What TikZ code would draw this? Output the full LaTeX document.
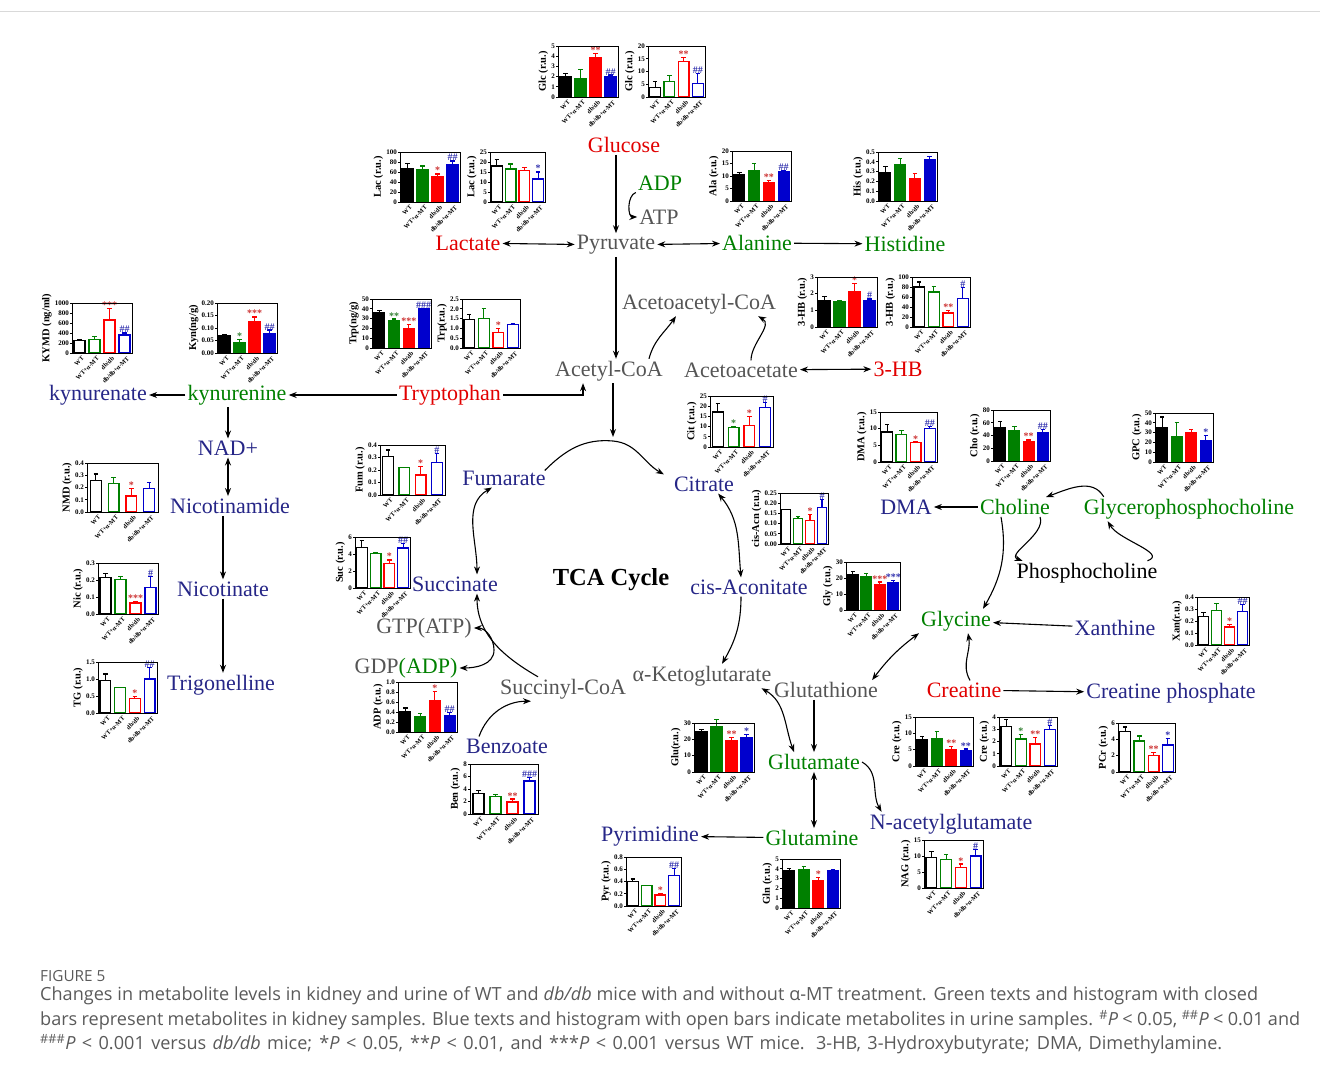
\documentclass[tikz,border=0pt]{standalone}
\usepackage{fontspec}
\setmainfont{Liberation Serif}
\newfontfamily\capfont{Open Sans}
\usetikzlibrary{arrows.meta,calc}
\definecolor{c1}{RGB}{0,0,0}
\definecolor{c2}{RGB}{0,128,0}
\definecolor{c3}{RGB}{255,0,0}
\definecolor{c4}{RGB}{0,0,205}
\definecolor{tnavy}{RGB}{38,38,135}
\definecolor{tgreen}{RGB}{0,128,0}
\definecolor{tred}{RGB}{225,0,0}
\definecolor{tgray}{RGB}{85,85,85}
\definecolor{capgray}{RGB}{90,90,90}
\tikzset{
  lab/.style={font=\fontsize{22}{23}\selectfont, inner sep=2pt},
  arr/.style={-{Stealth[length=8pt,width=6pt]}, line width=1.1pt},
  darr/.style={{Stealth[length=8pt,width=6pt]}-{Stealth[length=8pt,width=6pt]}, line width=1.1pt},
  tickl/.style={font=\fontsize{7}{7}\selectfont\bfseries, inner sep=0.8pt},
  catl/.style={font=\fontsize{6.3}{6.5}\selectfont\bfseries, inner sep=0.5pt},
  sigl/.style={font=\fontsize{10}{10}\selectfont\bfseries, inner sep=0.3pt},
  ylab/.style={font=\fontsize{10.5}{11}\selectfont\bfseries, inner sep=0pt},
  capl/.style={anchor=west,inner sep=0pt,text=capgray,font=\capfont\fontsize{18.1}{19}\selectfont}
}
\newcommand\catname[1]{\ifcase#1\or WT\or WT+α-MT\or db/db\or db/db+α-MT\fi}
% #1 x-left #2 y-bottom #3 w #4 h #5 label #6 ymax #7 ticks #8 F/O #9 data
\newcommand\hist[9]{%
\begin{scope}[shift={(#1,-#2)}]
  \pgfmathsetmacro\hw{#3}\pgfmathsetmacro\hh{#4}\pgfmathsetmacro\hmax{#6}
  \foreach \i/\v/\e/\s in {#9}{%
    \pgfmathsetmacro\bx{(\i-0.5)*\hw/4}
    \pgfmathsetmacro\bt{\v/\hmax*\hh}
    \pgfmathsetmacro\et{(\v+\e)/\hmax*\hh}
    \pgfmathsetmacro\bw{min(0.39*\hw/4,5.4)}
    \if#8F\def\fc{c\i}\else\def\fc{white}\fi
    \draw[draw=c\i,line width=1.2pt] (\bx,\bt) -- (\bx,\et) (\bx-2.2,\et) -- (\bx+2.2,\et);
    \filldraw[draw=c\i,fill=\fc,line width=1.3pt] (\bx-\bw,0) rectangle (\bx+\bw,\bt);
    \node[sigl,text=c\i!60!gray,anchor=south] at (\bx,\et-0.5) {\s};
    \node[catl,anchor=north east,rotate=45] at (\bx+2,-2) {\catname{\i}};
  }
  \draw[line width=0.9pt] (0,0) rectangle (\hw,\hh);
  \foreach \tv/\tl in {#7}{%
    \pgfmathsetmacro\ty{\tv/\hmax*\hh}
    \draw[line width=0.8pt] (0,\ty) -- (-2.2,\ty);
    \node[tickl,anchor=east] (tlast) at (-2.2,\ty) {\tl};
  }
  \coordinate (hm) at (0,\hh/2);
  \node[ylab,rotate=90,anchor=south] at ([xshift=-2pt]tlast.west |- hm) {#5};
\end{scope}}
\begin{document}
\begin{tikzpicture}[x=1pt,y=1pt]
\useasboundingbox (0,0) rectangle (1320,-1075);
\draw[black!15,line width=1pt] (0,-12) -- (1320,-12);
% ---------------- metabolite nodes
\node[lab,text=tred] (glucose) at (624,-145) {Glucose};
\node[lab,text=tgreen] (adp) at (660,-183) {ADP};
\node[lab,text=tgray] (atp) at (659,-217) {ATP};
\node[lab,text=tred] (lactate) at (468,-243) {Lactate};
\node[lab,text=tgray] (pyruvate) at (616,-245) {Pyruvate};
\node[lab,text=tgreen] (alanine) at (757,-243) {Alanine};
\node[lab,text=tgreen] (histidine) at (905,-244) {Histidine};
\node[lab,text=tgray] (aacoa) at (699,-304) {Acetoacetyl-CoA};
\node[lab,text=tgray] (acetyl) at (609,-371) {Acetyl-CoA};
\node[lab,text=tgray] (aacet) at (741,-370) {Acetoacetate};
\node[lab,text=tred] (hb) at (898,-369) {3-HB};
\node[lab,text=tnavy] (kynurenate) at (98,-395) {kynurenate};
\node[lab,text=tgreen] (kynurenine) at (237,-395) {kynurenine};
\node[lab,text=tred] (tryp) at (450,-395) {Tryptophan};
\node[lab,text=tnavy] (nad) at (228,-448) {NAD+};
\node[lab,text=tnavy] (nicam) at (230,-506) {Nicotinamide};
\node[lab,text=tnavy] (nicot) at (223,-589) {Nicotinate};
\node[lab,text=tnavy] (trig) at (221,-685) {Trigonelline};
\node[lab,text=tnavy] (fumarate) at (504,-478) {Fumarate};
\node[lab,text=tnavy] (citrate) at (704,-484) {Citrate};
\node[font=\fontsize{24.5}{25}\selectfont\bfseries] (tca) at (611,-580) {TCA Cycle};
\node[lab,text=tnavy] (succinate) at (455,-584) {Succinate};
\node[lab,text=tnavy] (cisacon) at (749,-587) {cis-Aconitate};
\node[lab,text=tgray] (gtp) at (424,-628) {GTP(ATP)};
\node[lab] (gdp) at (406,-668) {\textcolor{tgray}{GDP}\textcolor{tgreen}{(ADP)}};
\node[lab,text=tgray] (succoa) at (563,-689) {Succinyl-CoA};
\node[lab,text=tgray] (akg) at (702,-676) {α-Ketoglutarate};
\node[lab,text=tgray] (gsh) at (826,-690) {Glutathione};
\node[lab,text=tnavy] (benzoate) at (507,-746) {Benzoate};
\node[lab,text=tgreen] (glutamate) at (814,-762) {Glutamate};
\node[lab,text=tgreen] (glutamine) at (812,-838) {Glutamine};
\node[lab,text=tnavy] (pyrimidine) at (650,-836) {Pyrimidine};
\node[lab,text=tnavy] (nag) at (951,-824) {N-acetylglutamate};
\node[lab,text=tnavy] (dma) at (906,-507) {DMA};
\node[lab,text=tgreen] (choline) at (1015,-507) {Choline};
\node[lab,text=tgreen] (gpc) at (1189,-509) {Glycerophosphocholine};
\node[lab] (pcho) at (1087,-573) {Phosphocholine};
\node[lab,text=tgreen] (glycine) at (956,-621) {Glycine};
\node[lab,text=tnavy] (xanthine) at (1115,-628) {Xanthine};
\node[lab,text=tred] (creatine) at (964,-690) {Creatine};
\node[lab,text=tnavy] (crp) at (1171,-693) {Creatine phosphate};
% ---------------- connectors
\draw[arr] (pyruvate.north |- glucose.south) -- (pyruvate.north);
\draw[arr] (adp.south west) to[out=-160,in=180] (atp.west);
\draw[darr] (lactate) -- (pyruvate);
\draw[darr] (pyruvate) -- (alanine);
\draw[arr] (alanine) -- (histidine);
\draw[arr] (pyruvate.south) -- (pyruvate.south |- acetyl.north);
\draw[arr] ([xshift=-16pt]acetyl.north east) to[out=75,in=-125] ([xshift=-23pt]aacoa.south);
\draw[arr] ([xshift=10pt]aacet.north) to[out=90,in=-30] ([xshift=-20pt]aacoa.south east);
\draw[darr] (aacet) -- (hb);
\coordinate (tcatop) at (613,-437);
\draw[arr] (tcatop |- acetyl.south) -- (tcatop);
\draw[arr] (tryp.east) -| ([xshift=30pt]acetyl.south west);
\draw[arr] (tryp) -- (kynurenine);
\draw[arr] (kynurenine) -- (kynurenate);
\draw[arr] (nad.north |- kynurenine.south) -- (nad.north);
\draw[darr] (nad.south) -- (nad.south |- nicam.north);
\draw[arr] (nicot.north |- nicam.south) -- (nicot.north);
\draw[arr] (nicot.south) -- (nicot.south |- trig.north);
% TCA
\draw[arr] ([xshift=-3pt,yshift=-2pt]fumarate.north east) to[out=45,in=175] (613,-441) to[out=-5,in=150] ([xshift=-8pt]citrate.north west);
\draw[darr] ([xshift=-18pt]citrate.south east) to[out=-50,in=95] ([xshift=-8pt]cisacon.north);
\draw[arr] ([xshift=-8pt]cisacon.south) to[out=-90,in=60] ([xshift=20pt]akg.north);
\draw[arr] ([xshift=-25pt]succoa.north) to[out=150,in=-90] ([xshift=22pt]succinate.south);
\draw[darr] ([xshift=22pt]succinate.north) to[out=90,in=-150] ([xshift=-12pt]fumarate.south);
\draw[darr] (gtp.east) to[out=0,in=90] (494,-650) to[out=-90,in=0] (gdp.east);
\draw[arr] ([xshift=-28pt]benzoate.north) to[out=70,in=180] ([xshift=-32pt]succoa.south);
\draw[darr] ([xshift=-12pt]akg.south east) to[out=-30,in=110] ([xshift=-20pt]glutamate.north);
\draw[arr] (glutamate.north |- gsh.south) -- (glutamate.north);
\draw[darr] (glutamate.south) -- (glutamate.south |- glutamine.north);
\draw[arr] (glutamine) -- (pyrimidine);
\draw[arr] (glutamate.east) to[out=-30,in=120] ([xshift=14pt]nag.north west);
% right part
\draw[arr] (choline) -- (dma);
\draw[arr] ([xshift=22pt]gpc.north west) to[out=120,in=20] ([xshift=-6pt]choline.north east);
\draw[arr] ([xshift=-12pt]choline.south east) to[out=-70,in=160] ([xshift=8pt]pcho.north west);
\draw[arr] ([xshift=-12pt]pcho.north east) to[out=20,in=-60] ([xshift=26pt]gpc.south west);
\draw[arr] ([xshift=-14pt]choline.south) to[out=-80,in=60] ([xshift=-10pt]glycine.north east);
\draw[arr] (xanthine) -- (glycine);
\draw[arr] ([xshift=6pt]creatine.north) to[out=120,in=-80] ([xshift=12pt]glycine.south);
\draw[arr] (creatine) -- (crp);
\draw[darr] (glycine.south west) to[bend right=8] ([xshift=-8pt]gsh.north east);
% ---------------- histograms
\hist{558}{97}{60}{51}{Glc (r.u.)}{5}{0/0,1/1,2/2,3/3,4/4,5/5}{F}{1/2.0/0.3/{},2/1.8/0.9/{},3/3.9/0.4/{**},4/2.0/0.15/{\#\#}}
\hist{648}{97}{57}{51}{Glc (r.u.)}{20}{0/0,5/5,10/10,15/15,20/20}{O}{1/3.8/2.2/{},2/6/2.4/{},3/14/1.6/{**},4/5.2/4/{\#\#}}
\hist{400}{202}{60}{50}{Lac (r.u.)}{100}{0/0,20/20,40/40,60/60,80/80,100/100}{F}{1/66/11/{},2/64/8/{},3/50/6/{*},4/74/8/{\#\#}}
\hist{490}{202}{55}{50}{Lac (r.u.)}{25}{0/0,5/5,10/10,15/15,20/20,25/25}{O}{1/18/3.2/{},2/16.5/2.5/{},3/15.8/1.5/{},4/11.5/3.5/{*}}
\hist{732}{201}{59}{50}{Ala (r.u.)}{20}{0/0,5/5,10/10,15/15,20/20}{F}{1/10.5/1/{},2/12.3/2.8/{},3/7.3/1/{**},4/11.8/0.4/{\#\#}}
\hist{878}{201}{59}{49}{His (r.u.)}{0.5}{0/0.0,0.1/0.1,0.2/0.2,0.3/0.3,0.4/0.4,0.5/0.5}{F}{1/0.29/0.06/{},2/0.37/0.06/{},3/0.23/0.05/{},4/0.42/0.03/{}}
\hist{72}{353}{60}{50}{KYMD (ng/ml)}{1000}{0/0,200/200,400/400,600/600,800/800,1000/1000}{O}{1/250/20/{},2/270/60/{},3/660/230/{***},4/360/40/{\#\#}}
\hist{217}{353}{60}{50}{Kyn(ng/g)}{0.2}{0/0.00,0.05/0.05,0.1/0.10,0.15/0.15,0.2/0.20}{F}{1/0.071/0.003/{},2/0.042/0.013/{*},3/0.127/0.017/{***},4/0.077/0.015/{\#\#}}
\hist{372}{348}{59}{49}{Trp(ng/g)}{50}{0/0,10/10,20/20,30/30,40/40,50/50}{F}{1/36/2.5/{},2/28/1.5/{**},3/20/4/{***},4/40/0.5/{\#\#\#}}
\hist{462}{348}{58}{49}{Trp(r.u.)}{2.5}{0/0.0,0.5/0.5,1/1.0,1.5/1.5,2/2.0,2.5/2.5}{O}{1/1.45/0.25/{},2/1.52/0.5/{},3/0.8/0.2/{*},4/1.2/0.05/{}}
\hist{817}{327}{60}{50}{3-HB (r.u.)}{3}{0/0,1/1,2/2,3/3}{F}{1/1.6/0.25/{},2/1.55/0.05/{},3/2.1/0.5/{*},4/1.6/0.08/{\#}}
\hist{912}{327}{58}{50}{3-HB (r.u.)}{100}{0/0,20/20,40/40,60/60,80/80,100/100}{O}{1/80/10/{},2/70/11/{},3/28/5/{**},4/57/22/{\#}}
\hist{87}{512}{71}{49}{NMD (r.u.)}{0.4}{0/0.0,0.1/0.1,0.2/0.2,0.3/0.3,0.4/0.4}{O}{1/0.26/0.05/{},2/0.23/0.05/{},3/0.13/0.06/{*},4/0.19/0.05/{}}
\hist{98}{614}{60}{51}{Nic (r.u.)}{0.3}{0/0.0,0.1/0.1,0.2/0.2,0.3/0.3}{O}{1/0.215/0.025/{},2/0.205/0.015/{},3/0.065/0.01/{***},4/0.155/0.065/{\#}}
\hist{98}{713}{59}{51}{TG (r.u.)}{1.5}{0/0.0,0.5/0.5,1/1.0,1.5/1.5}{O}{1/0.95/0.2/{},2/0.74/0.01/{},3/0.42/0.06/{*},4/1.0/0.35/{\#\#}}
\hist{380}{495}{65}{50}{Fum (r.u.)}{0.4}{0/0.0,0.1/0.1,0.2/0.2,0.3/0.3,0.4/0.4}{O}{1/0.31/0.05/{},2/0.22/0.002/{},3/0.16/0.07/{*},4/0.26/0.07/{\#}}
\hist{355}{588}{55}{51}{Suc (r.u.)}{6}{0/0,2/2,4/4,6/6}{O}{1/4.8/0.8/{},2/4.1/0.1/{},3/2.9/0.4/{*},4/4.7/0.5/{\#\#}}
\hist{710}{447}{63}{51}{Cit (r.u.)}{25}{0/0,5/5,10/10,15/15,20/20,25/25}{O}{1/17.2/4/{},2/9.6/0.5/{*},3/10.6/4.5/{*},4/19.2/2.5/{\#}}
\hist{780}{544}{48}{51}{cis-Acn (r.u.)}{0.25}{0/0.00,0.05/0.05,0.1/0.10,0.15/0.15,0.2/0.20,0.25/0.25}{O}{1/0.168/0.002/{},2/0.125/0.01/{},3/0.115/0.03/{*},4/0.18/0.04/{\#}}
\hist{846}{610}{54}{48}{Gly (r.u.)}{30}{0/0,10/10,20/20,30/30}{F}{1/22/2/{},2/21/2/{},3/16/1.5/{***},4/17/1.5/{***}}
\hist{880}{462}{57}{50}{DMA (r.u.)}{15}{0/0,5/5,10/10,15/15}{O}{1/9/2.3/{},2/8.2/1.2/{},3/5.8/0.2/{*},4/10/0.6/{\#\#}}
\hist{993}{461}{57}{51}{Cho (r.u.)}{80}{0/0,20/20,40/40,60/60,80/80}{F}{1/52/10/{},2/47/7/{},3/30/3/{**},4/45/4/{\#\#}}
\hist{1155}{462}{58}{49}{GPC (r.u.)}{50}{0/0,10/10,20/20,30/30,40/40,50/50}{F}{1/35/11/{},2/26/14/{},3/30/3/{},4/22/5/{*}}
\hist{1197}{645}{52}{48}{Xan(r.u.)}{0.4}{0/0.0,0.1/0.1,0.2/0.2,0.3/0.3,0.4/0.4}{O}{1/0.24/0.03/{},2/0.29/0.055/{},3/0.15/0.02/{*},4/0.28/0.055/{\#\#}}
\hist{398}{732}{59}{50}{ADP (r.u.)}{1}{0/0.0,0.2/0.2,0.4/0.4,0.6/0.6,0.8/0.8,1/1.0}{F}{1/0.4/0.08/{},2/0.3/0.07/{},3/0.63/0.18/{*},4/0.33/0.06/{\#\#}}
\hist{470}{814}{68}{50}{Ben (r.u.)}{8}{0/0,2/2,4/4,6/6,8/8}{O}{1/3.3/0.4/{},2/2.8/0.3/{},3/1.9/0.5/{**},4/5.3/0.6/{\#\#\#}}
\hist{694}{772}{60}{49}{Glu(r.u.)}{30}{0/0,10/10,20/20,30/30}{F}{1/25/1/{},2/28/4/{},3/19/2/{**},4/21/2/{*}}
\hist{915}{766}{58}{49}{Cre (r.u.)}{15}{0/0,5/5,10/10,15/15}{F}{1/8/1/{},2/8.5/2/{},3/5/1/{**},4/4.7/0.5/{**}}
\hist{999}{766}{58}{49}{Cre (r.u.)}{4}{0/0,1/1,2/2,3/3,4/4}{O}{1/3.2/0.6/{},2/2.2/0.4/{*},3/1.8/0.5/{**},4/3/0.3/{\#}}
\hist{1118}{772}{57}{49}{PCr (r.u.)}{6}{0/0,2/2,4/4,6/6}{O}{1/5/0.5/{},2/3.8/0.6/{},3/2/0.4/{**},4/3.3/0.8/{*}}
\hist{626}{906}{55}{49}{Pyr (r.u.)}{0.8}{0/0.0,0.2/0.2,0.4/0.4,0.6/0.6,0.8/0.8}{O}{1/0.4/0.04/{},2/0.33/0.003/{},3/0.18/0.03/{*},4/0.5/0.11/{\#\#}}
\hist{782}{908}{58}{49}{Gln (r.u.)}{5}{0/0,1/1,2/2,3/3,4/4,5/5}{F}{1/3.8/0.2/{},2/3.9/0.3/{},3/2.8/0.3/{*},4/3.8/0.1/{}}
\hist{924}{888}{59}{48}{NAG (r.u.)}{15}{0/0,5/5,10/10,15/15}{O}{1/9.5/2/{},2/9/1.5/{},3/6.5/1/{*},4/10/2/{\#}}
% ---------------- caption
\node[anchor=west,inner sep=0pt,text=capgray,font=\capfont\fontsize{15.3}{16}\selectfont] (figlab) at (40,-976) {FIGURE 5};
\node[capl] (cap1) at (40,-996) {\makebox[1218pt][s]{Changes in metabolite levels in kidney and urine of WT and \textit{db/db} mice with and without α-MT treatment. Green texts and histogram with closed}};
\node[capl] (cap2) at (40,-1020) {\makebox[1260pt][s]{bars represent metabolites in kidney samples. Blue texts and histogram with open bars indicate metabolites in urine samples. \textsuperscript{\#}\textit{P} < 0.05, \textsuperscript{\#\#}\textit{P} < 0.01 and}};
\node[capl] (cap3) at (40,-1044) {\makebox[1182pt][s]{\textsuperscript{\#\#\#}\textit{P} < 0.001 versus \textit{db/db} mice; *\textit{P} < 0.05, **\textit{P} < 0.01, and ***\textit{P} < 0.001 versus WT mice. 3-HB, 3-Hydroxybutyrate; DMA, Dimethylamine.}};
\end{tikzpicture}
\end{document}
